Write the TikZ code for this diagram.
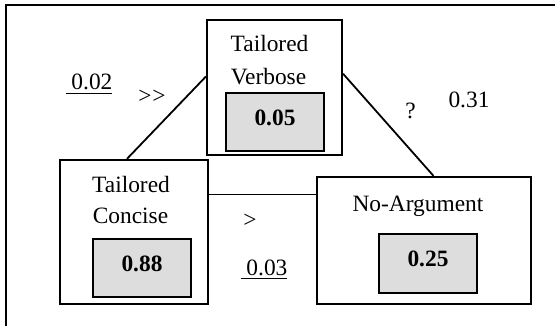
\documentclass[tikz,border=0pt]{standalone}
\usepackage{fontspec}
\setmainfont{Liberation Serif}
\usetikzlibrary{calc}
\definecolor{boxgray}{HTML}{DDDDDD}
\newcommand\myul[1]{\vtop{\hbox{#1}\kern1.3pt\hrule height 0.7pt}}
\begin{document}
\begin{tikzpicture}[x=0.5pt,y=-0.5pt,
  every node/.style={font=\fontsize{11.7}{14}\selectfont},
  bigbox/.style={draw, line width=1.1pt, inner sep=0pt},
  graybox/.style={draw, line width=1.1pt, fill=boxgray, inner sep=0pt,
    minimum width=49pt, text depth=4.5pt, font=\fontsize{11.7}{14}\selectfont\bfseries},
  txt/.style={anchor=base, inner sep=0pt},
  conn/.style={line width=0.9pt}]
\useasboundingbox (0,0) rectangle (555,326);
% outer frame (only top and left visible)
\coordinate (fb) at (6,326);
\coordinate (fc) at (6,5);
\coordinate (fr) at (555,5);
\draw[line width=1.1pt] (fb) -- (fc) -- (fr);
% boxes
\node[bigbox, minimum width=67.5pt, minimum height=67.5pt] (tv) at (274.5,87.5) {};
\node[bigbox, minimum width=74pt, minimum height=72pt] (tc) at (134,232) {};
\node[bigbox, minimum width=107pt, minimum height=63.5pt] (na) at (424,240.5) {};
\node[graybox, minimum height=29pt] (tvg) at (275,122) {0.05};
\node[graybox, minimum height=29pt] (tcg) at (142,268) {0.88};
\node[graybox, minimum height=29.5pt] (nag) at (428,263.5) {0.25};
% box titles
\node[txt] (tv1) at (269.5,52) {Tailored};
\node[txt] (tv2) at (268.5,84) {Verbose};
\node[txt] (tc1) at (131,192) {Tailored};
\node[txt] (tc2) at (130.5,223) {Concise};
\node[txt] (na1) at (418,211) {No-Argument};
% connectors
\coordinate (a1) at ($(tc.north west)!0.453!(tc.north east)$);
\coordinate (a2) at ($(tv.north west)!0.42!(tv.south west)$);
\draw[conn] (a1) -- (a2);
\coordinate (b1) at ($(tv.north east)!0.4!(tv.south east)$);
\coordinate (b2) at ($(na.north west)!0.544!(na.north east)$);
\draw[conn] (b1) -- (b2);
\coordinate (c1) at ($(tc.north east)!0.243!(tc.south east)$);
\draw[conn] (c1) -- (c1 -| na.west);
% labels
\node[txt] (l1) at (89,90) {\myul{\ 0.02}};
\node[txt] (l2) at (152,104) {\mbox{>}\kern0.5pt\mbox{>}};
\node[txt] (l3) at (410.5,118) {?};
\node[txt] (l4) at (469,107) {0.31};
\node[txt] (l5) at (250,227) {>};
\node[txt] (l6) at (264,275) {\myul{\ 0.03}};
\end{tikzpicture}
\end{document}
